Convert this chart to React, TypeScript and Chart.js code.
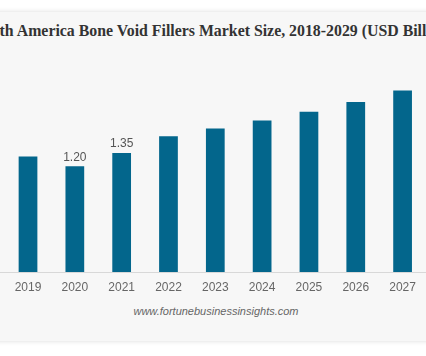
import React, { useEffect, useRef } from "react";
import { Chart, registerables } from "chart.js";

Chart.register(...registerables);

const years = ["2019", "2020", "2021", "2022", "2023", "2024", "2025", "2026", "2027"];
const marketSize = [1.31, 1.2, 1.35, 1.54, 1.63, 1.72, 1.82, 1.93, 2.06];
const valueLabels = ["", "1.20", "1.35", "", "", "", "", "", ""];
const titleText = "North America Bone Void Fillers Market Size, 2018-2029 (USD Billion)";
const sourceText = "www.fortunebusinessinsights.com";

const barLabelPlugin = {
  id: "barLabels",
  afterDatasetsDraw(chart: any) {
    const ctx = chart.ctx;
    const meta = chart.getDatasetMeta(0);
    ctx.save();
    ctx.font = "12px 'Liberation Sans', Arial, sans-serif";
    ctx.fillStyle = "#555555";
    ctx.textAlign = "center";
    ctx.textBaseline = "bottom";
    meta.data.forEach((bar: any, i: number) => {
      const t = valueLabels[i];
      if (t) ctx.fillText(t, bar.x, bar.y - 3);
    });
    ctx.restore();
  },
};

const baselinePlugin = {
  id: "baseline",
  afterDraw(chart: any) {
    const ctx = chart.ctx;
    const y = Math.round(chart.chartArea.bottom) + 0.5;
    ctx.save();
    ctx.strokeStyle = "#d8d8d8";
    ctx.lineWidth = 1;
    ctx.beginPath();
    ctx.moveTo(0, y);
    ctx.lineTo(chart.width, y);
    ctx.stroke();
    ctx.restore();
  },
};

export default function App() {
  const ref = useRef<HTMLCanvasElement>(null);

  useEffect(() => {
    if (!ref.current) return;
    const chart = new Chart(ref.current, {
      type: "bar",
      data: {
        labels: years,
        datasets: [
          {
            data: marketSize,
            backgroundColor: "#03668c",
            barPercentage: 0.4,
            categoryPercentage: 1,
          },
        ],
      },
      options: {
        animation: false,
        responsive: false,
        maintainAspectRatio: false,
        layout: { padding: { left: 4.6, right: 0, top: 51.75, bottom: 53.6 } },
        plugins: {
          legend: { display: false },
          title: { display: false },
          tooltip: { enabled: false },
        },
        scales: {
          x: {
            grid: { display: false, drawTicks: false },
            border: { display: false },
            ticks: {
              color: "#666666",
              padding: 8,
              font: { family: "'Liberation Sans', Arial, sans-serif", size: 12 },
            },
          },
          y: { display: false, min: 0, max: 2.5 },
        },
      },
      plugins: [barLabelPlugin, baselinePlugin],
    });
    return () => chart.destroy();
  }, []);

  return (
    <div
      style={{
        position: "fixed",
        left: 0,
        top: 0,
        width: 426,
        height: 356,
        overflow: "hidden",
        background: "#ffffff",
      }}
    >
      <div
        style={{
          position: "absolute",
          left: -20,
          top: 12,
          width: 466,
          height: 329,
          background: "#f7f7f7",
          boxShadow: "0 0 5px rgba(0,0,0,0.15)",
        }}
      />
      <div
        style={{
          position: "absolute",
          left: 213 - 300,
          width: 600,
          top: 22,
          lineHeight: "18px",
          textAlign: "center",
          whiteSpace: "nowrap",
          fontFamily: "'Liberation Serif', 'Times New Roman', serif",
          fontWeight: "bold",
          fontSize: 15.85,
          color: "#333333",
        }}
      >
        {titleText}
      </div>
      <div
        style={{
          position: "absolute",
          left: 216 - 150,
          width: 300,
          top: 304.5,
          lineHeight: "13px",
          textAlign: "center",
          whiteSpace: "nowrap",
          fontFamily: "'Liberation Sans', Arial, sans-serif",
          fontStyle: "italic",
          fontSize: 11,
          color: "#666666",
        }}
      >
        {sourceText}
      </div>
      <canvas
        ref={ref}
        width={426}
        height={356}
        style={{ position: "absolute", left: 0, top: 0, width: 426, height: 356 }}
      />
    </div>
  );
}
